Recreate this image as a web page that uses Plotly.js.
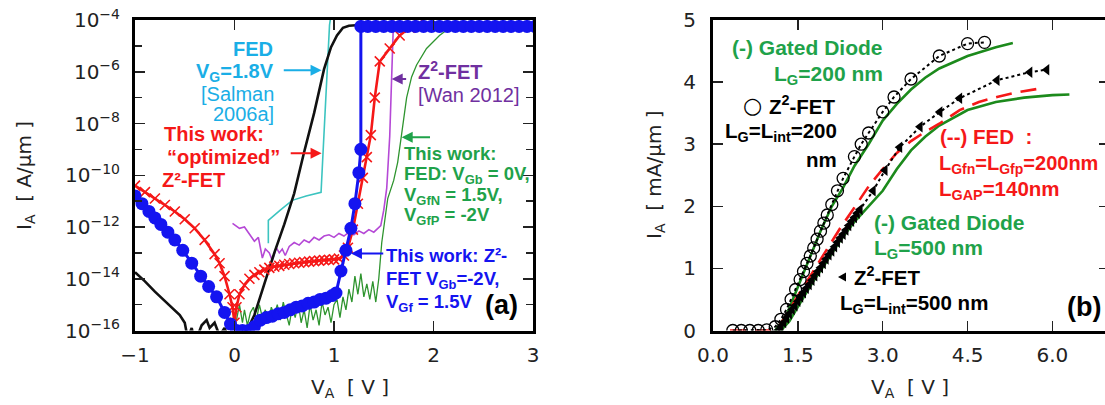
<!DOCTYPE html>
<html>
<head>
<meta charset="utf-8">
<script src="https://cdn.plot.ly/plotly-3.0.1.min.js"></script>
<style>
html,body{margin:0;padding:0;overflow:hidden;background:#fff;}
#chart{width:1115px;height:405px;}
</style>
</head>
<body>
<div id="chart"></div>
<script>
// ---------- Panel (a): log10 of I_A [A/um] vs V_A [V] ----------
const blackV = [-1.0,-0.9,-0.8,-0.7,-0.6,-0.55,-0.5,-0.47,-0.43,-0.4,-0.33,-0.28,-0.25,-0.2,-0.15,-0.1,-0.05,0.0,0.05,0.1,0.15,0.2,0.3,0.4,0.5,0.6,0.7,0.8,0.9,0.97,1.03,1.09,1.15,1.22,1.5,2.0,2.5,3.0];
const blackLogI = [-13.75,-14.1,-14.5,-14.85,-15.2,-15.4,-15.7,-16.3,-15.9,-16.5,-15.8,-15.6,-15.9,-15.7,-16.2,-15.9,-16.4,-16.6,-16.3,-16.1,-15.8,-15.4,-14.2,-13.0,-11.9,-10.7,-9.1,-7.6,-5.9,-5.05,-4.6,-4.3,-4.22,-4.2,-4.2,-4.2,-4.2,-4.2];

const cyanV = [0.34,0.34,0.46,0.58,0.72,0.87,0.885,0.905,0.93,0.955,0.97];
const cyanLogI = [-12.63,-11.74,-11.35,-10.97,-10.8,-10.66,-9.5,-8.0,-6.0,-4.2,-3.8];

const purpleV = [-0.02,0.02,0.05,0.1,0.15,0.2,0.24,0.28,0.31,0.35,0.38,0.42,0.45,0.48,0.51,0.55,0.6,0.65,0.7,0.75,0.8,0.85,0.9,0.95,1.0,1.05,1.1,1.15,1.2,1.25,1.3,1.35,1.4,1.43,1.47,1.5,1.53,1.56,1.58,1.6];
const purpleLogI = [-11.86,-11.95,-12.05,-12.0,-12.3,-12.55,-12.4,-13.2,-12.85,-13.0,-13.3,-12.8,-13.0,-12.85,-13.1,-12.75,-12.6,-12.7,-12.5,-12.6,-12.4,-12.5,-12.35,-12.3,-12.4,-12.25,-12.35,-12.2,-12.3,-12.15,-12.25,-12.1,-12.2,-12.1,-11.95,-11.35,-10.5,-8.5,-6.0,-3.8];

const greenV = [0.02,0.05,0.08,0.1,0.13,0.16,0.19,0.22,0.25,0.28,0.31,0.34,0.37,0.4,0.43,0.46,0.49,0.52,0.55,0.58,0.61,0.64,0.67,0.7,0.73,0.76,0.79,0.82,0.85,0.88,0.91,0.94,0.97,1.0,1.03,1.06,1.09,1.12,1.15,1.18,1.21,1.24,1.27,1.3,1.33,1.36,1.39,1.42,1.45,1.48,1.51,1.54,1.6,1.64,1.68,1.73,1.78,1.83,1.93,2.06,2.13,2.25,2.6,3.0];
const greenLogI = [-15.6,-15.0,-15.7,-15.2,-15.8,-15.3,-15.1,-15.6,-15.0,-15.5,-15.2,-15.7,-15.1,-15.4,-15.0,-15.6,-14.9,-15.3,-15.8,-15.1,-15.5,-14.9,-15.7,-15.2,-15.9,-15.0,-15.6,-15.2,-15.8,-14.9,-15.4,-15.1,-15.7,-15.0,-14.8,-15.5,-14.7,-15.2,-14.4,-14.9,-13.9,-14.6,-13.8,-14.7,-14.2,-14.8,-14.1,-14.9,-14.0,-12.6,-11.7,-10.9,-10.2,-9.5,-8.4,-7.0,-6.2,-5.74,-5.1,-4.6,-4.4,-4.25,-4.2,-4.2];

const redV = [-1.0,-0.9,-0.8,-0.7,-0.6,-0.5,-0.4,-0.3,-0.2,-0.15,-0.1,-0.05,-0.02,0.0,0.02,0.05,0.1,0.15,0.2,0.25,0.3,0.35,0.4,0.45,0.5,0.55,0.6,0.65,0.7,0.75,0.8,0.85,0.9,0.95,1.0,1.05,1.1,1.14,1.19,1.24,1.29,1.33,1.37,1.41,1.46,1.56,1.66,1.76,1.85];
const redLogI = [-10.4,-10.65,-10.9,-11.15,-11.4,-11.7,-12.05,-12.5,-13.05,-13.4,-13.9,-14.6,-15.1,-15.7,-15.1,-14.6,-14.25,-14.0,-13.85,-13.75,-13.65,-13.58,-13.53,-13.5,-13.46,-13.43,-13.4,-13.38,-13.36,-13.34,-13.32,-13.3,-13.28,-13.27,-13.25,-13.22,-13.1,-12.8,-12.1,-11.1,-10.1,-9.3,-8.45,-7.0,-5.6,-5.1,-4.6,-4.3,-4.15];

const blueV = [-1.0,-0.93,-0.86,-0.8,-0.74,-0.67,-0.6,-0.52,-0.43,-0.34,-0.26,-0.18,-0.1,-0.04,0.02,0.08,0.14,0.2,0.26,0.32,0.38,0.44,0.5,0.56,0.62,0.68,0.74,0.8,0.86,0.92,0.98,1.02,1.07,1.12,1.17,1.21,1.25,1.27,1.27,1.34,1.42,1.5,1.58,1.66,1.74,1.82,1.9,1.98,2.06,2.14,2.22,2.3,2.38,2.46,2.54,2.62,2.7,2.78,2.86,2.94,3.02];
const blueLogI = [-10.8,-11.1,-11.4,-11.65,-11.9,-12.2,-12.5,-12.9,-13.4,-13.9,-14.3,-14.7,-15.3,-15.75,-16.0,-16.0,-16.0,-15.85,-15.6,-15.5,-15.45,-15.35,-15.3,-15.2,-15.1,-15.05,-14.95,-14.9,-14.8,-14.75,-14.65,-14.55,-13.7,-12.9,-12.05,-11.1,-9.9,-9.0,-4.25,-4.25,-4.25,-4.25,-4.25,-4.25,-4.25,-4.25,-4.25,-4.25,-4.25,-4.25,-4.25,-4.25,-4.25,-4.25,-4.25,-4.25,-4.25,-4.25,-4.25,-4.25,-4.25];

const yTickExp = [-16,-14,-12,-10,-8,-6,-4];
const yMinorExp = [-15,-13,-11,-9,-7,-5];
const xTicksA = [-1,0,1,2,3];

// ---------- Panel (b): I_A [mA/um] vs V_A [V] ----------
const gd200V = [1.1,1.3,1.5,1.7,1.9,2.1,2.3,2.5,2.75,3.0,3.25,3.5,3.75,4.0,4.5,5.0,5.3];
const gd200I = [0.0,0.25,0.7,1.15,1.6,2.0,2.3,2.65,3.0,3.38,3.65,3.88,4.07,4.22,4.42,4.56,4.63];

const gd500V = [1.2,1.35,1.5,1.75,2.0,2.25,2.5,2.75,3.0,3.25,3.5,3.75,4.0,4.5,5.0,5.5,6.0,6.3];
const gd500I = [0.0,0.15,0.38,0.76,1.1,1.45,1.75,2.0,2.25,2.6,2.9,3.12,3.3,3.55,3.68,3.75,3.79,3.8];

const fedV = [0.3,1.0,1.15,1.3,1.5,1.75,2.0,2.25,2.5,2.75,3.0,3.25,3.5,3.75,4.0,4.36,4.7,5.02,5.4,5.8];
const fedI = [0.0,0.0,0.05,0.25,0.56,0.93,1.3,1.65,1.98,2.32,2.6,2.86,3.05,3.2,3.33,3.55,3.68,3.76,3.84,3.9];

const z200V = [0.35,0.5,0.65,0.8,0.95,1.1,1.2,1.3,1.38,1.46,1.54,1.6,1.66,1.72,1.78,1.84,1.9,1.96,2.02,2.1,2.2,2.3,2.5,2.62,2.75,3.0,3.2,3.5,4.0,4.5,4.8];
const z200I = [0.0,0.0,0.0,0.0,0.01,0.06,0.18,0.34,0.5,0.66,0.82,0.95,1.08,1.2,1.33,1.47,1.6,1.73,1.86,2.03,2.25,2.45,2.8,3.0,3.18,3.52,3.76,4.05,4.42,4.62,4.64];

const z500V = [1.15,1.2,1.25,1.3,1.35,1.4,1.45,1.5,1.55,1.6,1.65,1.7,1.75,1.8,1.85,1.9,1.95,2.0,2.05,2.1,2.15,2.2,2.25,2.3,2.35,2.4,2.45,2.5,2.55,2.6,2.83,3.04,3.3,3.66,4.01,4.36,5.02,5.6,5.9];
const z500I = [0.0,0.06,0.13,0.2,0.27,0.34,0.4,0.47,0.54,0.61,0.68,0.74,0.81,0.88,0.95,1.01,1.08,1.15,1.22,1.28,1.35,1.42,1.49,1.55,1.62,1.69,1.76,1.82,1.89,1.95,2.25,2.58,2.95,3.28,3.52,3.74,4.03,4.16,4.2];

const xTicksB = [0,1.5,3,4.5,6];
const xTickTextB = ['0.0','1.5','3.0','4.5','6.0'];
const yTicksB = [0,1,2,3,4,5];

// ---------- helpers ----------
const W = 1115, H = 405;
const pw = v => Math.pow(10, v);
const PX = p => p / W, PY = p => 1 - p / H;
const ANN_FONT = 'Liberation Sans, Arial, sans-serif';
const TICK_FONT = {family: 'DejaVu Sans, sans-serif', size: 20, color: '#222'};

function T(text, px, py, color, size, xa) {
  return {xref:'paper', yref:'paper', x:PX(px), y:PY(py), text:text, showarrow:false,
    xanchor: xa || 'left', yanchor:'middle', font:{family:ANN_FONT, size:size, color:color}};
}
function A(x, y, ax, ay, color) {
  return {xref:'x', yref:'y', axref:'x', ayref:'y', x:x, y:y, ax:ax, ay:ay, text:'',
    showarrow:true, arrowhead:2, arrowsize:1.1, arrowwidth:2, arrowcolor:color, standoff:0};
}

const C = {cyanT:'#1aaee6', cyanL:'#3cc4c0', red:'#f51818', blue:'#1414f0', purpleT:'#7030a0',
  purpleL:'#b548d6', greenT:'#1fa24a', greenL:'#2e942e', greenB:'#1c8a1c', black:'#111'};

const traces = [
  {x:cyanV, y:cyanLogI.map(pw), xaxis:'x', yaxis:'y', mode:'lines', line:{color:C.cyanL, width:1.6}, name:'FED [Salman 2006a]'},
  {x:purpleV, y:purpleLogI.map(pw), xaxis:'x', yaxis:'y', mode:'lines', line:{color:C.purpleL, width:1.6}, name:'Z2-FET [Wan 2012]'},
  {x:greenV, y:greenLogI.map(pw), xaxis:'x', yaxis:'y', mode:'lines', line:{color:C.greenL, width:1.3}, name:'This work FED'},
  {x:blackV, y:blackLogI.map(pw), xaxis:'x', yaxis:'y', mode:'lines', line:{color:C.black, width:2.6}, name:'reference'},
  {x:redV, y:redLogI.map(pw), xaxis:'x', yaxis:'y', mode:'lines+markers', line:{color:C.red, width:2.6},
    marker:{symbol:'x-thin-open', size:10, line:{color:C.red, width:1.6}}, name:'optimized Z2-FET'},
  {x:blueV, y:blueLogI.map(pw), xaxis:'x', yaxis:'y', mode:'lines+markers', line:{color:C.blue, width:3},
    marker:{symbol:'circle', size:13, color:C.blue}, name:'This work Z2-FET'},

  {x:gd200V, y:gd200I, xaxis:'x2', yaxis:'y2', mode:'lines', line:{color:C.greenB, width:2.6}, name:'Gated Diode 200'},
  {x:gd500V, y:gd500I, xaxis:'x2', yaxis:'y2', mode:'lines', line:{color:C.greenB, width:2.6}, name:'Gated Diode 500'},
  {x:fedV, y:fedI, xaxis:'x2', yaxis:'y2', mode:'lines', line:{color:C.red, width:2.6, dash:'16px,9px'}, name:'FED'},
  {x:z200V, y:z200I, xaxis:'x2', yaxis:'y2', mode:'lines+markers', line:{color:'#000', width:2, dash:'dot'},
    marker:{symbol:'circle-open', size:12, color:'#000', line:{width:1.3, color:'#000'}}, name:'Z2-FET 200'},
  {x:z500V, y:z500I, xaxis:'x2', yaxis:'y2', mode:'lines+markers', line:{color:'#000', width:2, dash:'dot'},
    marker:{symbol:'triangle-left', size:10, color:'#000'}, name:'Z2-FET 500'}
];

const axisCommon = {showline:true, linewidth:3, linecolor:'#000', mirror:'ticks', ticks:'inside',
  ticklen:10, tickwidth:1.5, tickcolor:'#222', showgrid:false, zeroline:false, tickfont:TICK_FONT,
  ticklabelstandoff:8, fixedrange:true};

const layout = {
  width:W, height:H, margin:{l:0, r:0, t:0, b:0}, paper_bgcolor:'#fff', plot_bgcolor:'#fff',
  showlegend:false,
  xaxis: Object.assign({}, axisCommon, {domain:[PX(135), PX(533)], range:[-1,3], tickvals:xTicksA, anchor:'y', ticklabelstandoff:4}),
  yaxis: Object.assign({}, axisCommon, {domain:[PY(330.5), PY(20)], type:'log', range:[-16,-4],
    tickvals:yTickExp.map(pw), ticktext:yTickExp.map(e => '10<sup>\u2212' + Math.abs(e) + '</sup>'), anchor:'x',
    minor:{tickvals:yMinorExp.map(pw), ticks:'inside', ticklen:7, tickwidth:1.5, tickcolor:'#222', showgrid:false}}),
  xaxis2: Object.assign({}, axisCommon, {domain:[PX(713), PX(1109)], range:[0,7], tickvals:xTicksB, ticktext:xTickTextB, anchor:'y2', ticklabelstandoff:4}),
  yaxis2: Object.assign({}, axisCommon, {domain:[PY(330.5), PY(20)], range:[0,5], tickvals:yTicksB, anchor:'x2', ticklabelstandoff:10}),
  shapes: [
    {type:'path', xref:'paper', yref:'paper', path:'M ' + PX(838) + ' ' + PY(277) + ' L ' + PX(846) + ' ' + PY(272.5) + ' L ' + PX(846) + ' ' + PY(281.5) + ' Z',
      fillcolor:'#000', line:{width:0}, layer:'above'}
  ],
  annotations: [
    // axis titles
    {xref:'paper', yref:'paper', x:PX(25), y:PY(176), text:'I<sub>A</sub>  [ A/\u03bcm ]', textangle:-90, showarrow:false,
      font:{family:'DejaVu Sans, sans-serif', size:20, color:'#222'}, xanchor:'center', yanchor:'middle'},
    {xref:'paper', yref:'paper', x:PX(350), y:PY(388), text:'V<sub>A</sub>  [ V ]', showarrow:false,
      font:{family:'DejaVu Sans, sans-serif', size:20, color:'#222'}, xanchor:'center', yanchor:'middle'},
    {xref:'paper', yref:'paper', x:PX(655), y:PY(175), text:'I<sub>A</sub>  [ mA/\u03bcm ]', textangle:-90, showarrow:false,
      font:{family:'DejaVu Sans, sans-serif', size:20, color:'#222'}, xanchor:'center', yanchor:'middle'},
    {xref:'paper', yref:'paper', x:PX(910), y:PY(388), text:'V<sub>A</sub>  [ V ]', showarrow:false,
      font:{family:'DejaVu Sans, sans-serif', size:20, color:'#222'}, xanchor:'center', yanchor:'middle'},

    // panel (a) labels
    T('<b>FED</b>', 275, 49, C.cyanT, 20, 'right'),
    T('<b>V<sub>G</sub>=1.8V</b>', 276, 72, C.cyanT, 20, 'right'),
    T('[Salman', 276, 94, C.cyanT, 20, 'right'),
    T('2006a]', 276, 114, C.cyanT, 20, 'right'),
    T('<b>This work:</b>', 266, 134, C.red, 20, 'right'),
    T('<b>\u201coptimized\u201d</b>', 282, 157, C.red, 20, 'right'),
    T('<b>Z\u00b2-FET</b>', 160, 180, C.red, 20, 'left'),
    T('<b>Z<sup>2</sup>-FET</b>', 416, 70, C.purpleT, 20, 'left'),
    T('[Wan 2012]', 416, 95, C.purpleT, 20, 'left'),
    T('<b>This work:</b>', 402, 153, C.greenT, 18.5, 'left'),
    T('<b>FED: V<sub>Gb</sub> = 0V,</b>', 402, 175, C.greenT, 18.5, 'left'),
    T('<b>V<sub>GfN</sub> = 1.5V,</b>', 402, 196, C.greenT, 18.5, 'left'),
    T('<b>V<sub>GfP</sub> = -2V</b>', 402, 216, C.greenT, 18.5, 'left'),
    T('<b>This work: Z\u00b2-</b>', 384, 255, C.blue, 18.5, 'left'),
    T('<b>FET V<sub>Gb</sub>=-2V,</b>', 384, 280, C.blue, 18.5, 'left'),
    T('<b>V<sub>Gf</sub> = 1.5V</b>', 384, 303, C.blue, 18.5, 'left'),
    T('<b>(a)</b>', 520, 305, '#000', 27, 'right'),
    A(0.875, -5.94, 0.48, -5.94, C.cyanT),
    A(0.875, -9.15, 0.55, -9.15, C.red),
    A(1.58, -6.28, 1.74, -6.28, C.purpleT),
    A(1.68, -8.53, 1.98, -8.53, C.greenT),
    A(1.17, -13.02, 1.51, -13.02, C.blue),

    // panel (b) labels
    T('<b>(-) Gated Diode</b>', 885, 48, C.greenT, 21, 'right'),
    T('<b>L<sub>G</sub>=200 nm</b>', 885, 75, C.greenT, 21, 'right'),
    {xref:'paper', yref:'paper', x:PX(752), y:PY(105), text:'\u25cb', showarrow:false, xanchor:'center', yanchor:'middle',
      font:{family:'DejaVu Sans, sans-serif', size:22, color:'#000'}},
    T('<b>Z<sup>2</sup>-FET</b>', 838, 105, '#000', 20.5, 'right'),
    T('<b>L<sub>G</sub>=L<sub>int</sub>=200</b>', 839, 132, '#000', 20.5, 'right'),
    T('<b>nm</b>', 839, 159, '#000', 20.5, 'right'),
    T('<b>(--) FED  :</b>', 938, 136, C.red, 20.5, 'left'),
    T('<b>L<sub>Gfn</sub>=L<sub>Gfp</sub>=200nm</b>', 937, 164, C.red, 20, 'left'),
    T('<b>L<sub>GAP</sub>=140nm</b>', 937, 190, C.red, 20.5, 'left'),
    T('<b>(-) Gated Diode</b>', 872, 222, C.greenT, 21, 'left'),
    T('<b>L<sub>G</sub>=500 nm</b>', 872, 249, C.greenT, 21, 'left'),
    T('<b>Z<sup>2</sup>-FET</b>', 852, 276, '#000', 20.5, 'left'),
    T('<b>L<sub>G</sub>=L<sub>int</sub>=500 nm</b>', 838, 304, '#000', 20.5, 'left'),
    T('<b>(b)</b>', 1065, 307, '#000', 27, 'left')
  ]
};

Plotly.newPlot('chart', traces, layout, {staticPlot:true, displayModeBar:false});
</script>
</body>
</html>
